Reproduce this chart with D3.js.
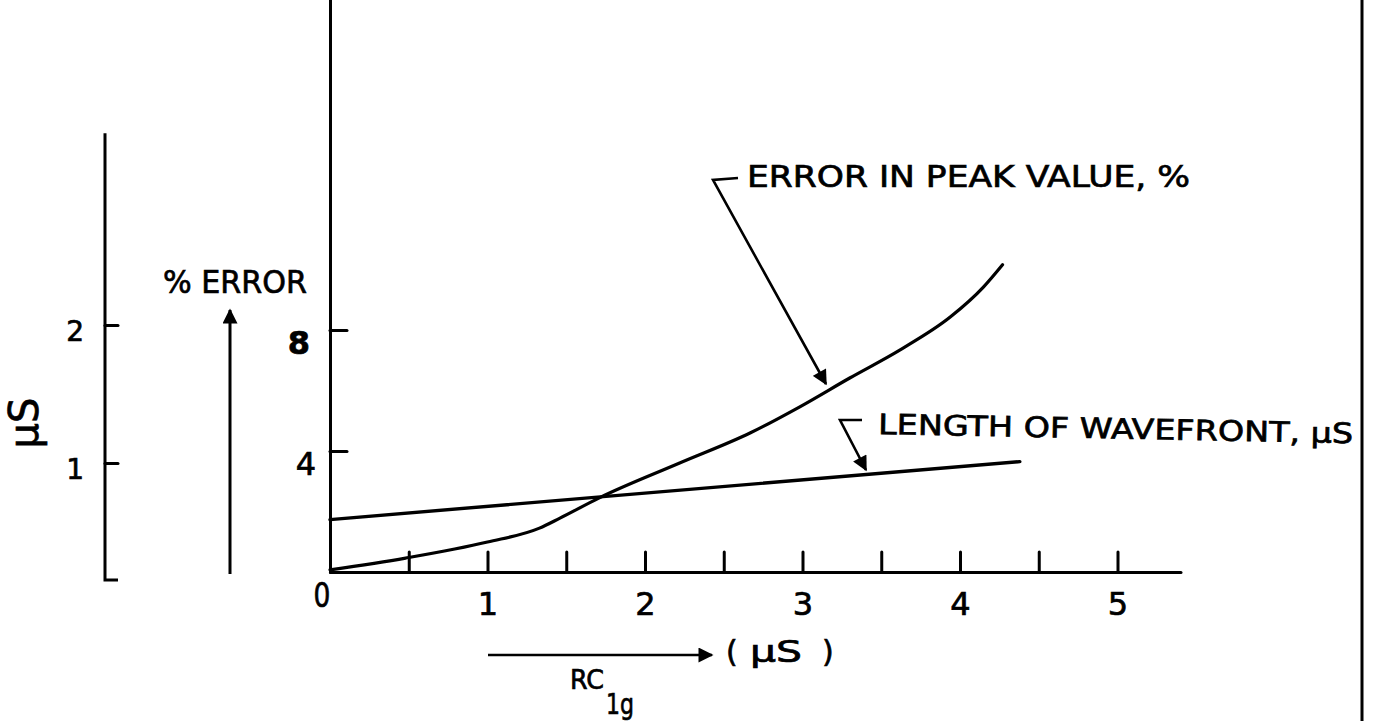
<!DOCTYPE html>
<html>
<head>
<meta charset="utf-8">
<script src="https://cdn.jsdelivr.net/npm/d3@7"></script>
<style>
  html, body { margin: 0; padding: 0; background: #fff; }
  svg { display: block; }
  text { font-family: "DejaVu Sans", "Liberation Sans", sans-serif; fill: #000; stroke: #000; stroke-width: 0.7px; }
</style>
</head>
<body>
<svg id="chart" width="1375" height="721"></svg>
<script>
// RC1g time constant (µs) along the horizontal axis
const rcTicks = [0.5, 1, 1.5, 2, 2.5, 3, 3.5, 4, 4.5, 5];
const rcLabelValues = [1, 2, 3, 4, 5];

// Error in peak value (%) vs RC1g
const errRC  = [0, 0.48, 1.0, 1.33, 1.46, 1.71, 2.22, 2.67, 2.98, 3.30, 3.62, 3.94, 4.15, 4.27];
const errPct = [0.07, 0.46, 0.99, 1.45, 1.78, 2.45, 3.6, 4.6, 5.45, 6.41, 7.34, 8.43, 9.42, 10.15];

// Length of wavefront (µs) vs RC1g
const wfRC = [0, 4.38];
const wfUs = [0.59, 1.01];

// Tick values on the two vertical scales
const pctTicks = [4, 8];
const usTicks = [1, 2];

// Texts
const errAxisTitle = "% ERROR";
const usAxisTitle = "µS";
const errCurveLabel = "ERROR IN PEAK VALUE, %";
const wfCurveLabel = "LENGTH OF WAVEFRONT, µS";

const svg = d3.select("#chart");
svg.append("rect").attr("width", 1375).attr("height", 721).attr("fill", "#fff");

const x = d3.scaleLinear().domain([0, 5.4]).range([330, 1180.5]);
const yPct = d3.scaleLinear().domain([0, 18.9]).range([572, 0]);
const yUs = d3.scaleLinear().domain([1, 2]).range([463, 325]);

const ink = "#000";

// arrowhead marker
const defs = svg.append("defs");
defs.append("marker")
  .attr("id", "head")
  .attr("viewBox", "0 0 10 10")
  .attr("refX", 9).attr("refY", 5)
  .attr("markerUnits", "userSpaceOnUse")
  .attr("markerWidth", 17).attr("markerHeight", 15)
  .attr("orient", "auto")
  .append("path").attr("d", "M0,0 L10,5 L0,10 Z").attr("fill", ink);

function styleAxis(g) {
  g.selectAll("path, line").attr("stroke", ink).attr("stroke-width", 3).attr("stroke-linecap", "round");
  g.selectAll("text").attr("fill", ink).attr("font-family", "DejaVu Sans");
}

// horizontal RC axis, ticks pointing up
const xAxis = svg.append("g")
  .attr("transform", `translate(0,${yPct(0)})`)
  .call(d3.axisBottom(x)
    .tickValues(rcTicks)
    .tickSizeInner(-20)
    .tickSizeOuter(0)
    .tickPadding(20)
    .tickFormat(d => rcLabelValues.includes(d) ? String(d) : ""));
styleAxis(xAxis);
xAxis.selectAll("text").attr("font-size", 32).attr("stroke-width", 0.5);

// origin label
svg.append("text")
  .attr("transform", `translate(${x(0) - 8},607) scale(0.78,1)`)
  .attr("text-anchor", "middle")
  .attr("font-size", 34)
  .text("0");

// main % error axis
const yAxis = svg.append("g")
  .attr("transform", `translate(${x(0)},0)`)
  .call(d3.axisLeft(yPct)
    .tickValues(pctTicks)
    .tickSizeInner(-17)
    .tickSizeOuter(0)
    .tickPadding(20)
    .tickFormat(d3.format("d")));
styleAxis(yAxis);
yAxis.selectAll(".tick text")
  .attr("font-size", 32)
  .attr("dy", "0.75em")
  .attr("font-weight", d => d === 8 ? "bold" : "normal")
  .attr("x", d => d === 8 ? -20 : -14);

// secondary µs axis on the far left
svg.append("path")
  .attr("d", `M105,${yUs(3.39)} V${yUs(0.152)} H118`)
  .attr("fill", "none").attr("stroke", ink).attr("stroke-width", 3)
  .attr("stroke-linejoin", "miter");
const usAxis = svg.append("g")
  .attr("transform", "translate(105,0)")
  .call(d3.axisLeft(yUs)
    .tickValues(usTicks)
    .tickSizeInner(-13)
    .tickSizeOuter(0)
    .tickPadding(21)
    .tickFormat(d3.format("d")));
usAxis.select(".domain").remove();
styleAxis(usAxis);
usAxis.selectAll(".tick text").attr("font-size", 28).attr("dy", "0.55em");

svg.append("text")
  .attr("transform", "translate(38,423) rotate(-90)")
  .attr("text-anchor", "middle")
  .attr("font-size", 40)
  .text(usAxisTitle);

// "% ERROR" with upward arrow
svg.append("text")
  .attr("x", 163).attr("y", 293)
  .attr("font-size", 32)
  .attr("textLength", 144).attr("lengthAdjust", "spacingAndGlyphs")
  .text(errAxisTitle);
svg.append("line")
  .attr("x1", 230).attr("y1", 574).attr("x2", 230).attr("y2", 310)
  .attr("stroke", ink).attr("stroke-width", 3)
  .attr("marker-end", "url(#head)");

// RC1g arrow and unit
svg.append("line")
  .attr("x1", 488).attr("y1", 655).attr("x2", 712).attr("y2", 655)
  .attr("stroke", ink).attr("stroke-width", 2.5)
  .attr("marker-end", "url(#head)");
svg.append("text").attr("x", 726).attr("y", 662).attr("font-size", 30).text("(");
svg.append("text").attr("x", 750).attr("y", 662).attr("font-size", 30)
  .attr("textLength", 52).attr("lengthAdjust", "spacingAndGlyphs").text("µS");
svg.append("text").attr("x", 822).attr("y", 662).attr("font-size", 30).text(")");
svg.append("text").attr("x", 570).attr("y", 689).attr("font-size", 26)
  .attr("textLength", 34).attr("lengthAdjust", "spacingAndGlyphs").text("RC");
svg.append("text").attr("x", 606).attr("y", 714).attr("font-size", 29)
  .attr("textLength", 28).attr("lengthAdjust", "spacingAndGlyphs").text("1g");

// curves
const line = d3.line().curve(d3.curveMonotoneX);

svg.append("path")
  .attr("d", line(errRC.map((r, i) => [x(r), yPct(errPct[i])])))
  .attr("fill", "none").attr("stroke", ink).attr("stroke-width", 3.2)
  .attr("stroke-linecap", "round");

svg.append("path")
  .attr("d", d3.line()(wfRC.map((r, i) => [x(r), yUs(wfUs[i])])))
  .attr("fill", "none").attr("stroke", ink).attr("stroke-width", 3.4)
  .attr("stroke-linecap", "round");

// curve labels with leader arrows
svg.append("text")
  .attr("x", 747).attr("y", 187)
  .attr("font-size", 30)
  .attr("textLength", 443).attr("lengthAdjust", "spacingAndGlyphs")
  .text(errCurveLabel);
svg.append("path")
  .attr("d", "M738,178 L713,180 L826,384")
  .attr("fill", "none").attr("stroke", ink).attr("stroke-width", 2.6)
  .attr("marker-end", "url(#head)");

svg.append("text")
  .attr("transform", "translate(878,434) rotate(1.1)")
  .attr("font-size", 28)
  .attr("textLength", 475).attr("lengthAdjust", "spacingAndGlyphs")
  .text(wfCurveLabel);
svg.append("path")
  .attr("d", "M862,420 L840,420 L866,470")
  .attr("fill", "none").attr("stroke", ink).attr("stroke-width", 2.6)
  .attr("marker-end", "url(#head)");

// right-hand frame edge
svg.append("line")
  .attr("x1", 1362).attr("y1", 0).attr("x2", 1362).attr("y2", 721)
  .attr("stroke", ink).attr("stroke-width", 3);
</script>
</body>
</html>
